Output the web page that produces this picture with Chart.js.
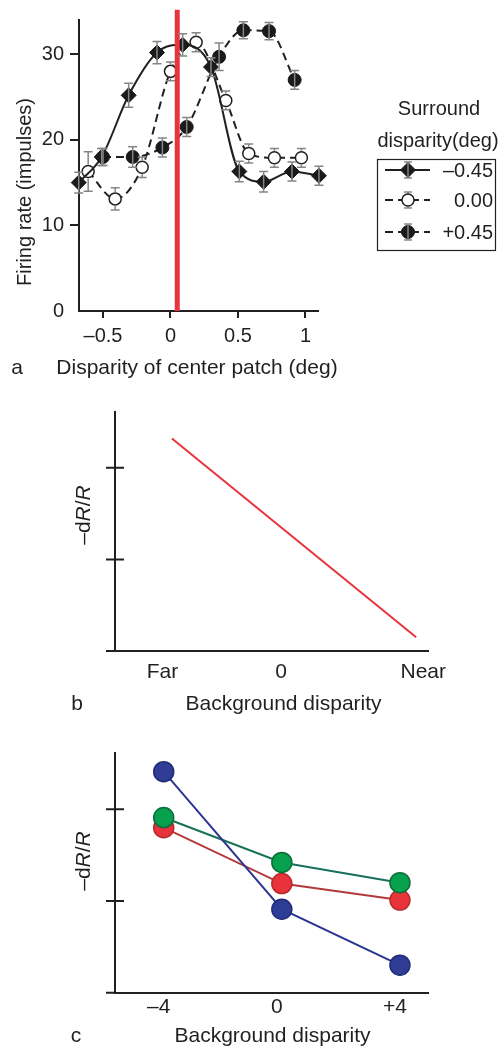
<!DOCTYPE html>
<html>
<head>
<meta charset="utf-8">
<script src="https://cdn.jsdelivr.net/npm/chart.js@4.4.0/dist/chart.umd.min.js"></script>
<style>
  html, body { margin: 0; padding: 0; background: #fff; }
  .panel { position: absolute; left: 0; width: 502px; }
  #wrapA { top: 0; height: 390px; }
  #wrapB { top: 400px; height: 320px; }
  #wrapC { top: 730px; height: 316px; }
  canvas { display: block; }
</style>
</head>
<body>
<div class="panel" id="wrapA"><canvas id="chartA" width="502" height="390"></canvas></div>
<div class="panel" id="wrapB"><canvas id="chartB" width="502" height="320"></canvas></div>
<div class="panel" id="wrapC"><canvas id="chartC" width="502" height="316"></canvas></div>
<script>
// ---- panel a: firing rate vs centre disparity ----
const xTicksA = [-0.5, 0, 0.5, 1];
const yTicksA = [0, 10, 20, 30];
const centerDisparity = 0.05;

// surround -0.45 (diamonds, solid)
const dispNeg = [-0.68, -0.51, -0.31, -0.10, 0.09, 0.30, 0.51, 0.69, 0.90, 1.10];
const rateNeg = [15.0, 18.0, 25.2, 30.2, 31.1, 28.5, 16.3, 15.1, 16.3, 15.8];
const errNeg  = [1.2, 1.0, 1.4, 1.3, 1.3, 1.1, 1.2, 1.2, 1.1, 1.1];

// surround 0.00 (open circles, dashed)
const dispZero = [-0.61, -0.41, -0.21, 0.00, 0.19, 0.41, 0.58, 0.77, 0.97];
const rateZero = [16.3, 13.1, 16.8, 28.0, 31.4, 24.6, 18.4, 17.9, 17.9];
const errZero  = [2.3, 1.3, 1.2, 1.1, 1.1, 1.1, 1.1, 1.1, 1.1];

// surround +0.45 (filled circles, dashed)
const dispPos = [-0.50, -0.28, -0.06, 0.12, 0.36, 0.54, 0.73, 0.92];
const ratePos = [18.0, 18.0, 19.1, 21.5, 29.7, 32.8, 32.7, 27.0];
const errPos  = [1.0, 1.2, 1.1, 1.1, 1.6, 1.0, 1.0, 1.1];

const legendLabels = ['\u20130.45', '0.00', '+0.45'];

// ---- panel b: schematic ----
const tickValsB = [-1, 0, 1.2];
const tickLabelsB = ['Far', '0', 'Near'];
const lineXB = [-0.92, 1.14];
const lineYB = [2.32, 0.15];
const yTicksBC = [1, 2];

// ---- panel c: three cells ----
const bgDisparity = [-4, 0, 4];
const tickLabelsC = ['\u20134', '0', '+4'];
const blueVals  = [2.41, 0.91, 0.30];
const greenVals = [1.91, 1.42, 1.20];
const redVals   = [1.80, 1.19, 1.01];

const ink = '#231f20';
const family = '"Liberation Sans", Arial, Helvetica, sans-serif';
Chart.defaults.font.family = family;
Chart.defaults.font.size = 20;
Chart.defaults.color = ink;

const pts = (xs, ys) => xs.map((x, i) => ({ x: x, y: ys[i] }));
const dash = v => (v < 0 ? '\u2013' + Math.abs(v) : String(v));

// 绘制误差线（空心点只画圆外部分）
const errorBars = {
    id: 'errorBars',
    afterDatasetsDraw(chart) {
        const ctx = chart.ctx;
        const sx = chart.scales.x, sy = chart.scales.y;
        chart.data.datasets.forEach(ds => {
            if (!ds.errors) return;
            const r = ds.pointRadius + 1;
            ctx.save();
            ctx.strokeStyle = '#858585';
            ctx.lineWidth = 1.5;
            ds.data.forEach((p, j) => {
                const px = sx.getPixelForValue(p.x);
                const py = sy.getPixelForValue(p.y);
                const top = sy.getPixelForValue(p.y + ds.errors[j]);
                const bot = sy.getPixelForValue(p.y - ds.errors[j]);
                ctx.beginPath();
                if (ds.hollow) {
                    ctx.moveTo(px, top); ctx.lineTo(px, py - r);
                    ctx.moveTo(px, py + r); ctx.lineTo(px, bot);
                } else {
                    ctx.moveTo(px, top); ctx.lineTo(px, bot);
                }
                ctx.moveTo(px - 4.5, top); ctx.lineTo(px + 4.5, top);
                ctx.moveTo(px - 4.5, bot); ctx.lineTo(px + 4.5, bot);
                ctx.stroke();
            });
            ctx.restore();
        });
    }
};

function drawMarker(ctx, ds, x, y) {
    const r = ds.pointRadius;
    ctx.beginPath();
    if (ds.pointStyle === 'rectRot') {
        ctx.moveTo(x - r, y); ctx.lineTo(x, y - r); ctx.lineTo(x + r, y); ctx.lineTo(x, y + r);
        ctx.closePath();
    } else {
        ctx.arc(x, y, r, 0, Math.PI * 2);
    }
    ctx.fillStyle = ds.pointBackgroundColor;
    ctx.fill();
    ctx.lineWidth = ds.pointBorderWidth;
    ctx.strokeStyle = ds.pointBorderColor;
    ctx.stroke();
}

// 图例（方框 + 标题）
const surroundLegend = {
    id: 'surroundLegend',
    afterDraw(chart) {
        const ctx = chart.ctx;
        ctx.save();
        ctx.fillStyle = ink;
        ctx.font = '20px ' + family;
        ctx.textAlign = 'center';
        ctx.textBaseline = 'alphabetic';
        ctx.fillText('Surround', 439, 115);
        ctx.fillText('disparity(deg)', 438, 147);
        ctx.strokeStyle = ink;
        ctx.lineWidth = 1.2;
        ctx.strokeRect(377.5, 159.5, 118, 91);
        const rows = [170, 200, 232];
        chart.data.datasets.filter(ds => ds.errors).forEach((ds, i) => {
            const y = rows[i];
            ctx.save();
            ctx.strokeStyle = ink;
            ctx.lineWidth = 2;
            ctx.setLineDash(ds.borderDash || []);
            ctx.beginPath(); ctx.moveTo(385, y); ctx.lineTo(430, y); ctx.stroke();
            ctx.restore();
            ctx.save();
            ctx.strokeStyle = '#858585';
            ctx.lineWidth = 1.5;
            ctx.beginPath();
            ctx.moveTo(408, y - 8); ctx.lineTo(408, y + 8);
            ctx.moveTo(404, y - 8); ctx.lineTo(412, y - 8);
            ctx.moveTo(404, y + 8); ctx.lineTo(412, y + 8);
            ctx.stroke();
            ctx.restore();
            drawMarker(ctx, ds, 408, y);
            if (!ds.hollow) {
                ctx.strokeStyle = '#858585'; ctx.lineWidth = 1.5;
                ctx.beginPath(); ctx.moveTo(408, y - 8); ctx.lineTo(408, y + 8); ctx.stroke();
            }
            ctx.fillStyle = ink;
            ctx.textAlign = 'right';
            ctx.textBaseline = 'middle';
            ctx.fillText(legendLabels[i], 493, y + 1);
        });
        ctx.restore();
    }
};

// 自由文字（轴标题、面板字母），支持斜体片段与旋转
const panelText = {
    id: 'panelText',
    afterDraw(chart, args, opts) {
        const ctx = chart.ctx;
        (opts.items || []).forEach(item => {
            const size = item.size || 20;
            const parts = item.parts || [{ t: item.text }];
            const fontOf = p => (p.italic ? 'italic ' : '') + size + 'px ' + family;
            ctx.save();
            ctx.fillStyle = ink;
            ctx.textAlign = 'left';
            ctx.textBaseline = 'alphabetic';
            let total = 0;
            parts.forEach(p => { ctx.font = fontOf(p); total += ctx.measureText(p.t).width; });
            ctx.translate(item.x, item.y);
            if (item.rotate) ctx.rotate(-Math.PI / 2);
            let cx = -total / 2;
            parts.forEach(p => {
                ctx.font = fontOf(p);
                ctx.fillText(p.t, cx, 0);
                cx += ctx.measureText(p.t).width;
            });
            ctx.restore();
        });
    }
};

// b/c 面板：纵轴刻度穿过轴线，横轴向左延伸
const crossTicks = {
    id: 'crossTicks',
    afterDraw(chart) {
        const ctx = chart.ctx, area = chart.chartArea, sy = chart.scales.y;
        ctx.save();
        ctx.strokeStyle = ink;
        ctx.lineWidth = 2;
        ctx.beginPath();
        sy.ticks.forEach(t => {
            const py = sy.getPixelForValue(t.value);
            ctx.moveTo(area.left - 9, py); ctx.lineTo(area.left + 9, py);
        });
        ctx.moveTo(area.left - 9, area.bottom); ctx.lineTo(area.left, area.bottom);
        ctx.stroke();
        ctx.restore();
    }
};

const rdRR = [{ t: '\u2013d' }, { t: 'R', italic: true }, { t: '/' }, { t: 'R', italic: true }];

// ---------- panel a ----------
new Chart(document.getElementById('chartA'), {
    type: 'line',
    data: {
        datasets: [
            {
                label: 'center',
                data: [{ x: centerDisparity, y: 0 }, { x: centerDisparity, y: 35.2 }],
                borderColor: '#e8353d',
                borderWidth: 5,
                pointRadius: 0,
                clip: false
            },
            {
                label: '-0.45',
                data: pts(dispNeg, rateNeg),
                errors: errNeg,
                clip: false,
                borderColor: ink,
                borderWidth: 2,
                cubicInterpolationMode: 'monotone',
                pointStyle: 'rectRot',
                pointRadius: 7.5,
                pointBackgroundColor: '#1a1a1a',
                pointBorderColor: '#1a1a1a',
                pointBorderWidth: 1
            },
            {
                label: '0.00',
                data: pts(dispZero, rateZero),
                errors: errZero,
                hollow: true,
                clip: false,
                borderColor: ink,
                borderWidth: 2,
                borderDash: [8, 5],
                cubicInterpolationMode: 'monotone',
                pointStyle: 'circle',
                pointRadius: 6,
                pointBackgroundColor: '#ffffff',
                pointBorderColor: ink,
                pointBorderWidth: 1.5
            },
            {
                label: '+0.45',
                data: pts(dispPos, ratePos),
                errors: errPos,
                clip: false,
                borderColor: ink,
                borderWidth: 2,
                borderDash: [8, 5],
                cubicInterpolationMode: 'monotone',
                pointStyle: 'circle',
                pointRadius: 6.5,
                pointBackgroundColor: '#1a1a1a',
                pointBorderColor: '#1a1a1a',
                pointBorderWidth: 1
            }
        ]
    },
    options: {
        responsive: false,
        animation: false,
        layout: { padding: { top: 20, right: 184, left: 0, bottom: 0 } },
        plugins: {
            legend: { display: false },
            tooltip: { enabled: false },
            panelText: {
                items: [
                    { text: 'Firing rate (impulses)', x: 31, y: 192, rotate: true },
                    { text: 'Disparity of center patch (deg)', x: 197, y: 374, size: 21 },
                    { text: 'a', x: 17, y: 374, size: 21 }
                ]
            }
        },
        scales: {
            x: {
                type: 'linear',
                min: -0.678,
                max: 1.093,
                afterBuildTicks: s => { s.ticks = xTicksA.map(v => ({ value: v })); },
                afterFit: s => { s.height = 79; },
                border: { color: ink, width: 2 },
                grid: { drawOnChartArea: false, color: ink, lineWidth: 2, tickLength: 7 },
                ticks: { color: ink, padding: 6, autoSkip: false, maxRotation: 0, callback: v => dash(v) }
            },
            y: {
                type: 'linear',
                min: 0,
                max: 34,
                afterBuildTicks: s => { s.ticks = yTicksA.map(v => ({ value: v })); },
                afterFit: s => { s.width = 79; },
                border: { color: ink, width: 2 },
                grid: {
                    drawOnChartArea: false,
                    color: c => (c.tick && c.tick.value === 0 ? 'rgba(0,0,0,0)' : ink),
                    lineWidth: 2,
                    tickLength: 9
                },
                ticks: { color: ink, padding: 6 }
            }
        }
    },
    plugins: [errorBars, surroundLegend, panelText]
});

// ---------- panel b ----------
new Chart(document.getElementById('chartB'), {
    type: 'line',
    data: {
        datasets: [{
            data: pts(lineXB, lineYB),
            borderColor: '#e8333a',
            borderWidth: 2,
            pointRadius: 0
        }]
    },
    options: {
        responsive: false,
        animation: false,
        layout: { padding: { top: 12, right: 74, left: 0, bottom: 0 } },
        plugins: {
            legend: { display: false },
            tooltip: { enabled: false },
            panelText: {
                items: [
                    { parts: rdRR, x: 89.5, y: 115, rotate: true, size: 21 },
                    { text: 'Background disparity', x: 283.5, y: 310, size: 21 },
                    { text: 'b', x: 77, y: 310, size: 21 }
                ]
            }
        },
        scales: {
            x: {
                type: 'linear',
                min: -1.4,
                max: 1.24,
                afterBuildTicks: s => { s.ticks = tickValsB.map(v => ({ value: v })); },
                afterFit: s => { s.height = 69; },
                border: { color: ink, width: 2 },
                grid: { display: false, drawTicks: false },
                ticks: {
                    color: ink, padding: 9, autoSkip: false, maxRotation: 0, font: { size: 21 },
                    callback: v => tickLabelsB[tickValsB.indexOf(v)]
                }
            },
            y: {
                type: 'linear',
                min: 0,
                max: 2.61,
                afterBuildTicks: s => { s.ticks = yTicksBC.map(v => ({ value: v })); },
                afterFit: s => { s.width = 115; },
                border: { color: ink, width: 2 },
                grid: { display: false, drawTicks: false },
                ticks: { display: false }
            }
        }
    },
    plugins: [crossTicks, panelText]
});

// ---------- panel c ----------
const cellSet = (vals, fill, edge, line) => ({
    data: pts(bgDisparity, vals),
    borderColor: line,
    borderWidth: 2,
    pointRadius: 10,
    pointBackgroundColor: fill,
    pointBorderColor: edge,
    pointBorderWidth: 1.5
});

new Chart(document.getElementById('chartC'), {
    type: 'line',
    data: {
        datasets: [
            cellSet(blueVals, '#2f3d97', '#232c78', '#2c3592'),
            cellSet(greenVals, '#06a04e', '#0b6e3a', '#16725a'),
            cellSet(redVals, '#e8333a', '#b82a2e', '#b33a3a')
        ]
    },
    options: {
        responsive: false,
        animation: false,
        layout: { padding: { top: 22.7, right: 74, left: 0, bottom: 0 } },
        plugins: {
            legend: { display: false },
            tooltip: { enabled: false },
            panelText: {
                items: [
                    { parts: rdRR, x: 89.5, y: 131, rotate: true, size: 21 },
                    { text: 'Background disparity', x: 272.5, y: 311.7, size: 21 },
                    { text: 'c', x: 76, y: 311.7, size: 21 }
                ]
            }
        },
        scales: {
            x: {
                type: 'linear',
                min: -5.65,
                max: 4.95,
                afterBuildTicks: s => { s.ticks = bgDisparity.map(v => ({ value: v })); },
                afterFit: s => { s.height = 53.3; },
                border: { color: ink, width: 2 },
                grid: { display: false, drawTicks: false },
                ticks: {
                    color: ink, padding: 2, autoSkip: false, maxRotation: 0, labelOffset: -5, font: { size: 21 },
                    callback: v => tickLabelsC[bgDisparity.indexOf(v)]
                }
            },
            y: {
                type: 'linear',
                min: 0,
                max: 2.617,
                afterBuildTicks: s => { s.ticks = yTicksBC.map(v => ({ value: v })); },
                afterFit: s => { s.width = 115; },
                border: { color: ink, width: 2 },
                grid: { display: false, drawTicks: false },
                ticks: { display: false }
            }
        }
    },
    plugins: [crossTicks, panelText]
});
</script>
</body>
</html>
